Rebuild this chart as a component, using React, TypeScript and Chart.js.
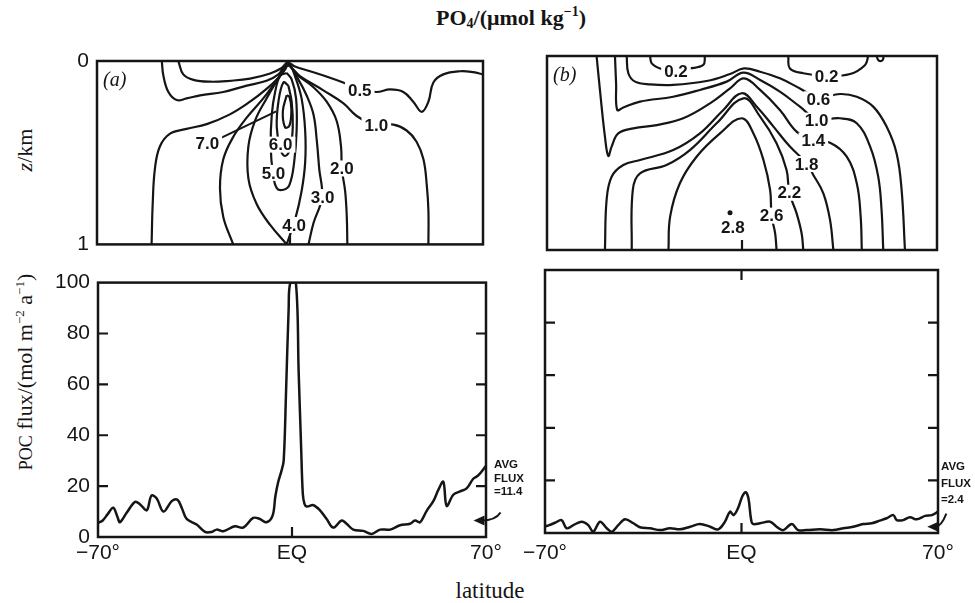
import { useEffect, useRef } from "react";
import { Chart, registerables } from "chart.js";

Chart.register(...registerables);

type Pt = [number, number];

const INK = "#151515";
const SANS = '"Liberation Sans", Arial, sans-serif';
const SERIF = '"Liberation Serif", "Times New Roman", serif';

// ---------- axes ----------
const LAT_MIN = -70;
const LAT_MAX = 70;
const LAT_TICKS = [-70, 0, 70];
const LAT_TICK_LABELS = ["\u221270\u00b0", "EQ", "70\u00b0"];
const DEPTH_MIN = 0;
const DEPTH_MAX = 1;
const DEPTH_TICKS = [0, 1];
const FLUX_MIN = 0;
const FLUX_MAX = 100;
const FLUX_TICKS = [0, 20, 40, 60, 80, 100];
const FLUX_INNER_TICKS = [20, 40, 60, 80];
const EQ_TICK = [0];

// ---------- POC flux, panel (a) ----------
const fluxLatA = [
  -70, -68.3, -66.5, -64.5, -63, -62.1, -59.6, -56.6, -54.8, -52.4, -50.7, -48.8, -46.4, -43.4, -41.4,
  -39.8, -38, -34.4, -31.4, -29, -27.2, -24.8, -20.6, -17.6, -14, -11.6, -9.2, -7, -6, -5, -3.8, -3,
  -2.2, -1.2, -0.6, 1.4, 2.4, 3.3, 3.9, 4.5, 5.3, 7.7, 10.1, 12.5, 14.9, 17.9, 19.7, 22.1, 25.7, 28.7,
  31.8, 35.4, 39, 42.6, 44.4, 46.2, 48.6, 51, 52.8, 54.6, 55.8, 58.2, 60.6, 63, 65.4, 67.2, 70,
];
const fluxValA = [
  5.5, 6.5, 9, 11.5, 8, 5.8, 9.6, 13.8, 12.8, 10.5, 16.3, 15.1, 10, 14.1, 14.7,
  11.5, 7.1, 4.9, 2, 2, 2.9, 2.3, 4.2, 3.7, 7.5, 7.1, 5.8, 8.4, 16, 21.5, 26, 30,
  55, 90, 100, 100, 65, 35, 17, 13, 12, 12.5, 10.5, 7.1, 3.7, 6.5, 5.2, 2.9, 2.4, 1.2,
  2.9, 2.9, 4.6, 5.2, 6.5, 5.8, 10.3, 14.1, 18.5, 21.7, 12.2, 16.6, 17.9, 19.1, 22.9, 24.2, 28,
];
const AVG_FLUX_A = "11.4";

// ---------- POC flux, panel (b) ----------
const fluxLatB = [
  -70, -68.5, -66.4, -64.1, -62.3, -59.9, -56.9, -54.6, -52.8, -50.4, -48, -46.2, -43.9, -41.5, -38.5,
  -36.2, -32.6, -29, -25.5, -21.9, -18.3, -14.8, -11.2, -8.3, -5.9, -4.1, -2.8, -1.2, 0.3, 1.5, 2.5,
  3.3, 4, 6.6, 10.2, 12.5, 14.9, 17.9, 20.2, 23.2, 28, 32.7, 36.3, 39.8, 43.4, 46.4, 49.3, 51.7, 54.1,
  55.3, 57.6, 60, 62.4, 65.4, 67.8, 70,
];
const fluxValB = [
  2.5, 3, 3.9, 4.9, 1.8, 3, 4.3, 3, 0.5, 4.3, 1.8, 0.5, 3, 5.2, 3.7,
  2.2, 1.8, 1.1, 1.8, 1.4, 2.4, 3.4, 2.4, 1.4, 4.3, 8.1, 6.8, 9.5, 14, 15.5, 13,
  6, 3.5, 3.7, 4.3, 2.4, 1.1, 3.4, 1.1, 1.1, 1.4, 1.1, 1.8, 2.4, 3.4, 3.7, 4.7, 5.6, 6.8,
  4.9, 4.9, 6, 5.2, 6.5, 6.8, 8.1,
];
const AVG_FLUX_B = "2.4";

// ---------- PO4 contours, panel (a): [latitude, depth km] ----------
const contA_05: Pt[] = [[-40.5, 0], [-38.7, 0.073], [-35, 0.103], [-29, 0.113], [-21.8, 0.108], [-14.5, 0.096], [-7.2, 0.068], [-3, 0.038], [-0.9, 0.009], [1.8, 0.03], [7.3, 0.056], [14.5, 0.091], [19.3, 0.117], [25.3, 0.155], [31.4, 0.169], [36.3, 0.155], [41.1, 0.169], [44.7, 0.222], [47.8, 0.277], [50.2, 0.222], [52, 0.117], [55.6, 0.073], [61.7, 0.056], [66.5, 0.061], [70, 0.073]];
const contA_10: Pt[] = [[-46.5, 0], [-45.9, 0.082], [-44.1, 0.169], [-41.1, 0.213], [-37.5, 0.204], [-32.6, 0.187], [-24.2, 0.169], [-15.7, 0.134], [-8.5, 0.108], [-4.2, 0.073], [-1.2, 0.021], [3.6, 0.082], [12.1, 0.16], [19.3, 0.23], [24.2, 0.3], [31.3, 0.352], [37.5, 0.347], [42.3, 0.379], [45.9, 0.44], [48.4, 0.536], [49.6, 0.675], [50.2, 0.815], [50.2, 1]];
const contA_20: Pt[] = [[-50.2, 1], [-49.8, 0.78], [-49, 0.588], [-47.2, 0.466], [-43.5, 0.396], [-37.5, 0.37], [-30.2, 0.344], [-21.8, 0.291], [-14.5, 0.222], [-8.5, 0.152], [-4.2, 0.091], [-1.8, 0.047], [-0.6, 0.021], [2.4, 0.073], [8.5, 0.143], [13.3, 0.222], [16.9, 0.326], [18.5, 0.466], [18.8, 0.588], [20, 0.71], [20.6, 0.85], [20.8, 1]];
const contA_30: Pt[] = [[-20.6, 1], [-24.2, 0.85], [-25.4, 0.693], [-24.2, 0.536], [-20.6, 0.414], [-15.7, 0.309], [-9.7, 0.204], [-5.4, 0.117], [-2.4, 0.056], [-0.6, 0.021], [3, 0.1], [6, 0.187], [8.5, 0.291], [9.7, 0.431], [10.6, 0.588], [11.6, 0.742], [8.5, 0.885], [6.7, 1]];
const contA_40: Pt[] = [[-1.2, 1], [-7.2, 0.894], [-12.1, 0.78], [-15.1, 0.64], [-15.1, 0.466], [-12.7, 0.326], [-8.5, 0.204], [-4.8, 0.108], [-1.8, 0.038], [-0.2, 0.016], [1.8, 0.082], [4.2, 0.204], [5.5, 0.379], [5.5, 0.553], [4.2, 0.71], [1.8, 0.867], [-1.2, 1]];
const contA_50: Pt[] = [[-1.2, 0.065], [-3.6, 0.082], [-5.4, 0.169], [-6.6, 0.291], [-7, 0.466], [-6.2, 0.61], [-4.8, 0.693], [-2.4, 0.702], [-0.2, 0.675], [1.5, 0.553], [2.4, 0.379], [2.2, 0.204], [0.6, 0.1], [-1.2, 0.065]];
const contA_60: Pt[] = [[-0.6, 0.134], [-2.4, 0.117], [-4.2, 0.222], [-4.8, 0.361], [-3.5, 0.48], [-1.8, 0.518], [0, 0.483], [1, 0.361], [0.6, 0.222], [-0.6, 0.134]];
const contA_70: Pt[] = [[-1.2, 0.187], [-2.6, 0.274], [-1.8, 0.361], [-0.2, 0.353], [0.5, 0.265], [-0.2, 0.196], [-1.2, 0.187]];
const labelsA = [
  { text: "0.5", x: 25.3, y: 0.158 },
  { text: "1.0", x: 31.3, y: 0.352 },
  { text: "2.0", x: 18.8, y: 0.586 },
  { text: "3.0", x: 11.8, y: 0.742 },
  { text: "4.0", x: 1.5, y: 0.894 },
  { text: "5.0", x: -6.0, y: 0.61 },
  { text: "6.0", x: -3.4, y: 0.456 },
  { text: "7.0", x: -30.0, y: 0.448 },
];
const leaderA: [Pt, Pt] = [[-25.2, 0.42], [-5.0, 0.275]];

// ---------- PO4 contours, panel (b) ----------
const contB_02a: Pt[] = [[-33, 0], [-32.4, 0.038], [-29.4, 0.064], [-24.7, 0.076], [-18.7, 0.064], [-13.9, 0.046], [-13.3, 0]];
const contB_02b: Pt[] = [[16.6, 0], [17.2, 0.064], [22, 0.089], [30.4, 0.103], [38.8, 0.093], [44.2, 0.046], [45.3, 0]];
const contB_02c: Pt[] = [[48.3, 0], [48.9, 0.02], [50, 0.026], [50.7, 0.015], [50.7, 0]];
const contB_06: Pt[] = [[-41.4, 0], [-40.8, 0.089], [-38.4, 0.132], [-33, 0.146], [-24.7, 0.149], [-12.7, 0.129], [-4.3, 0.093], [0.7, 0.064], [6.5, 0.081], [13.6, 0.115], [20.8, 0.167], [27.4, 0.215], [35.2, 0.196], [41.2, 0.21], [47.1, 0.261], [51.9, 0.364], [55.5, 0.502], [57.3, 0.691], [58.5, 1]];
const contB_10: Pt[] = [[-45.6, 0], [-45.2, 0.141], [-44.8, 0.278], [-42.6, 0.265], [-36.6, 0.235], [-24.7, 0.21], [-15.1, 0.175], [-5.5, 0.132], [0.5, 0.086], [6.5, 0.124], [13.6, 0.184], [20.8, 0.261], [26.8, 0.325], [35.2, 0.321], [41.2, 0.347], [46, 0.467], [48.9, 0.622], [50.1, 0.794], [50.7, 1]];
const contB_14: Pt[] = [[-52.2, 0], [-51, 0.175], [-49.2, 0.416], [-48, 0.515], [-46.8, 0.467], [-44.4, 0.399], [-39, 0.373], [-30.6, 0.356], [-21.1, 0.321], [-11.5, 0.244], [-4.3, 0.167], [0.7, 0.115], [6.5, 0.175], [13.6, 0.278], [19.6, 0.39], [25.4, 0.436], [31.6, 0.447], [37.6, 0.519], [41.2, 0.656], [42.6, 0.828], [43, 1]];
const contB_18: Pt[] = [[-49.2, 1], [-48.6, 0.742], [-46.8, 0.622], [-42.6, 0.562], [-36.6, 0.536], [-24.7, 0.485], [-15.1, 0.399], [-6.7, 0.278], [-0.1, 0.192], [5.3, 0.261], [11.3, 0.364], [17.2, 0.467], [23, 0.55], [25.6, 0.613], [29.2, 0.708], [31.6, 0.845], [32.8, 1]];
const contB_22: Pt[] = [[-39.6, 1], [-39.2, 0.69], [-36.6, 0.605], [-27.1, 0.562], [-18.7, 0.485], [-9.1, 0.347], [0.5, 0.218], [6.5, 0.313], [12.4, 0.45], [16, 0.588], [17, 0.705], [19.6, 0.811], [21.4, 0.914], [22, 1]];
const contB_26: Pt[] = [[-26.4, 1], [-25.8, 0.828], [-22.3, 0.656], [-16.3, 0.519], [-7.9, 0.399], [-0.1, 0.321], [4.1, 0.399], [7.7, 0.536], [10.1, 0.691], [10.6, 0.823], [11.9, 0.914], [12.4, 1]];
const maxPointB: Pt = [-4.3, 0.808];
const labelsB = [
  { text: "0.2", x: -23.7, y: 0.081 },
  { text: "0.2", x: 30.4, y: 0.103 },
  { text: "0.6", x: 27.4, y: 0.223 },
  { text: "1.0", x: 26.8, y: 0.333 },
  { text: "1.4", x: 25.6, y: 0.436 },
  { text: "1.8", x: 23.2, y: 0.557 },
  { text: "2.2", x: 17.0, y: 0.705 },
  { text: "2.6", x: 10.6, y: 0.823 },
  { text: "2.8", x: -3.3, y: 0.885 },
];

// ---------- helpers ----------
const toXY = (pts: Pt[]) => pts.map(([x, y]) => ({ x, y }));
const zipXY = (xs: number[], ys: number[]) => xs.map((x, i) => ({ x, y: ys[i] }));

function lineDs(data: { x: number; y: number }[], width = 2.2, tension = 0.4) {
  return {
    data,
    showLine: true,
    borderColor: INK,
    borderWidth: width,
    pointRadius: 0,
    pointHoverRadius: 0,
    tension,
    fill: false,
  };
}

interface Decor {
  panel?: string;
  bottomTicks?: number[];
  topTicks?: number[];
  sideTicks?: number[];
  labels?: { text: string; x: number; y: number }[];
  leader?: [Pt, Pt];
  avg?: { lines: string[]; firstAbove: number; gap: number; dx: number; tip: Pt; tail: [number, number] };
}

function decorPlugin(d: Decor) {
  return {
    id: "decor",
    afterDatasetsDraw(chart: any) {
      const { ctx, chartArea: a } = chart;
      const xs = chart.scales.x;
      const ys = chart.scales.y;
      ctx.save();
      ctx.strokeStyle = INK;
      ctx.fillStyle = INK;
      if (d.leader) {
        ctx.lineWidth = 2;
        ctx.beginPath();
        ctx.moveTo(xs.getPixelForValue(d.leader[0][0]), ys.getPixelForValue(d.leader[0][1]));
        ctx.lineTo(xs.getPixelForValue(d.leader[1][0]), ys.getPixelForValue(d.leader[1][1]));
        ctx.stroke();
      }
      if (d.labels) {
        ctx.font = `bold 17px ${SANS}`;
        ctx.textAlign = "center";
        ctx.textBaseline = "middle";
        for (const l of d.labels) {
          const px = xs.getPixelForValue(l.x);
          const py = ys.getPixelForValue(l.y);
          const w = ctx.measureText(l.text).width;
          ctx.fillStyle = "#fff";
          ctx.fillRect(px - w / 2 - 3, py - 8, w + 6, 16);
          ctx.fillStyle = INK;
          ctx.fillText(l.text, px, py + 1);
        }
      }
      // frame
      ctx.lineWidth = 2.5;
      ctx.strokeRect(a.left, a.top, a.right - a.left, a.bottom - a.top);
      // inward ticks
      const TL = 10;
      ctx.lineWidth = 2.2;
      ctx.beginPath();
      for (const v of d.bottomTicks || []) {
        const x = xs.getPixelForValue(v);
        ctx.moveTo(x, a.bottom);
        ctx.lineTo(x, a.bottom - TL);
      }
      for (const v of d.topTicks || []) {
        const x = xs.getPixelForValue(v);
        ctx.moveTo(x, a.top);
        ctx.lineTo(x, a.top + TL);
      }
      for (const v of d.sideTicks || []) {
        const y = ys.getPixelForValue(v);
        ctx.moveTo(a.left, y);
        ctx.lineTo(a.left + TL, y);
        ctx.moveTo(a.right, y);
        ctx.lineTo(a.right - TL, y);
      }
      ctx.stroke();
      if (d.panel) {
        ctx.font = `italic 20px ${SERIF}`;
        ctx.textAlign = "left";
        ctx.textBaseline = "middle";
        ctx.fillText(d.panel, a.left + 6, a.top + 20);
      }
      if (d.avg) {
        const g = d.avg;
        ctx.font = `bold 11.5px ${SANS}`;
        ctx.textAlign = "left";
        ctx.textBaseline = "middle";
        g.lines.forEach((t, i) => ctx.fillText(t, a.right + g.dx, a.bottom - g.firstAbove + i * g.gap));
        const tx = xs.getPixelForValue(g.tip[0]);
        const ty = ys.getPixelForValue(g.tip[1]);
        const sx = tx + g.tail[0];
        const sy = ty + g.tail[1];
        ctx.lineWidth = 2;
        ctx.beginPath();
        ctx.moveTo(sx, sy);
        ctx.quadraticCurveTo(sx - 5, ty, tx + 8, ty);
        ctx.stroke();
        ctx.beginPath();
        ctx.moveTo(tx, ty);
        ctx.lineTo(tx + 11, ty - 5);
        ctx.lineTo(tx + 11, ty + 5);
        ctx.closePath();
        ctx.fill();
      }
      ctx.restore();
    },
  };
}

interface PanelCfg {
  depth: boolean;
  datasets: any[];
  showX: boolean;
  showY: boolean;
  yWidth: number;
  xHeight: number;
  xPad: number;
  padding: { left: number; top: number; right: number; bottom: number };
  decor: Decor;
}

function makeConfig(p: PanelCfg): any {
  const yTicks = p.depth ? DEPTH_TICKS : FLUX_TICKS;
  const tickFont = { family: SANS, size: 21 };
  return {
    type: "scatter",
    data: { datasets: p.datasets },
    options: {
      responsive: false,
      animation: false,
      events: [],
      layout: { padding: p.padding },
      plugins: { legend: { display: false }, tooltip: { enabled: false }, title: { display: false } },
      scales: {
        x: {
          type: "linear",
          min: LAT_MIN,
          max: LAT_MAX,
          display: p.showX,
          afterBuildTicks: (s: any) => {
            s.ticks = LAT_TICKS.map((value) => ({ value }));
          },
          afterFit: (s: any) => {
            s.height = p.xHeight;
          },
          ticks: {
            autoSkip: false,
            maxRotation: 0,
            minRotation: 0,
            padding: p.xPad,
            color: INK,
            font: tickFont,
            callback: (_v: any, i: number) => LAT_TICK_LABELS[i],
          },
          grid: { display: false, drawTicks: false },
          border: { display: false },
        },
        y: {
          type: "linear",
          min: p.depth ? DEPTH_MIN : FLUX_MIN,
          max: p.depth ? DEPTH_MAX : FLUX_MAX,
          reverse: p.depth,
          display: p.showY,
          afterBuildTicks: (s: any) => {
            s.ticks = yTicks.map((value) => ({ value }));
          },
          afterFit: (s: any) => {
            s.width = p.yWidth;
          },
          ticks: { padding: 8, color: INK, font: tickFont, callback: (v: any) => String(v) },
          grid: { display: false, drawTicks: false },
          border: { display: false },
        },
      },
    },
    plugins: [decorPlugin(p.decor)],
  };
}

export default function App() {
  const refTA = useRef<HTMLCanvasElement>(null);
  const refTB = useRef<HTMLCanvasElement>(null);
  const refBA = useRef<HTMLCanvasElement>(null);
  const refBB = useRef<HTMLCanvasElement>(null);

  useEffect(() => {
    const charts: Chart[] = [];
    charts.push(
      new Chart(
        refTA.current!,
        makeConfig({
          depth: true,
          datasets: [contA_05, contA_10, contA_20, contA_30, contA_40, contA_50, contA_60, contA_70].map((c) =>
            lineDs(toXY(c))
          ),
          showX: false,
          showY: true,
          yWidth: 97,
          xHeight: 0,
          xPad: 0,
          padding: { left: 0, top: 21, right: 17, bottom: 13 },
          decor: { panel: "(a)", bottomTicks: EQ_TICK, labels: labelsA, leader: leaderA },
        })
      )
    );
    charts.push(
      new Chart(
        refTB.current!,
        makeConfig({
          depth: true,
          datasets: [
            ...[contB_02a, contB_02b, contB_02c, contB_06, contB_10, contB_14, contB_18, contB_22, contB_26].map((c) =>
              lineDs(toXY(c))
            ),
            {
              data: toXY([maxPointB]),
              showLine: false,
              pointRadius: 2.5,
              pointBackgroundColor: INK,
              pointBorderWidth: 0,
            },
          ],
          showX: false,
          showY: false,
          yWidth: 0,
          xHeight: 0,
          xPad: 0,
          padding: { left: 47, top: 16, right: 38, bottom: 15 },
          decor: { panel: "(b)", bottomTicks: EQ_TICK, labels: labelsB },
        })
      )
    );
    charts.push(
      new Chart(
        refBA.current!,
        makeConfig({
          depth: false,
          datasets: [lineDs(zipXY(fluxLatA, fluxValA), 2.5, 0.35)],
          showX: true,
          showY: true,
          yWidth: 98,
          xHeight: 35,
          xPad: 4,
          padding: { left: 0, top: 12, right: 49, bottom: 0 },
          decor: {
            bottomTicks: EQ_TICK,
            sideTicks: FLUX_INNER_TICKS,
            avg: { lines: ["AVG", "FLUX", "=" + AVG_FLUX_A], firstAbove: 72, gap: 13.5, dx: 8, tip: [65.5, 6.5], tail: [27, -8] },
          },
        })
      )
    );
    charts.push(
      new Chart(
        refBB.current!,
        makeConfig({
          depth: false,
          datasets: [lineDs(zipXY(fluxLatB, fluxValB), 2.5, 0.35)],
          showX: true,
          showY: false,
          yWidth: 0,
          xHeight: 39,
          xPad: 8,
          padding: { left: 45, top: 12, right: 37, bottom: 0 },
          decor: {
            bottomTicks: EQ_TICK,
            topTicks: EQ_TICK,
            sideTicks: FLUX_INNER_TICKS,
            avg: { lines: ["AVG", "FLUX", "=" + AVG_FLUX_B], firstAbove: 66, gap: 16.5, dx: 3, tip: [66.2, 2.4], tail: [19, -13] },
          },
        })
      )
    );
    return () => charts.forEach((c) => c.destroy());
  }, []);

  const abs = (l: number, t: number, w: number, h: number): React.CSSProperties => ({
    position: "absolute",
    left: l,
    top: t,
    width: w,
    height: h,
  });

  return (
    <div style={{ position: "absolute", left: 0, top: 0, width: 975, height: 603, background: "#fff", overflow: "hidden", color: INK }}>
      <div
        style={{
          position: "absolute",
          left: 361,
          top: -2,
          width: 300,
          textAlign: "center",
          font: `bold 22px ${SERIF}`,
          lineHeight: "28px",
          whiteSpace: "nowrap",
        }}
      >
        PO<sub style={{ fontSize: 14, verticalAlign: "-3px" }}>4</sub>/(μmol kg<sup style={{ fontSize: 14, verticalAlign: "9px" }}>−1</sup>)
      </div>
      <div
        style={{
          position: "absolute",
          left: 25,
          top: 150,
          transform: "translate(-50%, -50%) rotate(-90deg)",
          font: `22px ${SERIF}`,
          whiteSpace: "nowrap",
        }}
      >
        <i>z</i>/km
      </div>
      <div
        style={{
          position: "absolute",
          left: 25,
          top: 372,
          transform: "translate(-50%, -50%) rotate(-90deg)",
          font: `22px ${SERIF}`,
          whiteSpace: "nowrap",
        }}
      >
        <span style={{ fontSize: 18 }}>POC</span> flux/(mol m<sup style={{ fontSize: 13 }}>−2</sup> a<sup style={{ fontSize: 13 }}>−1</sup>)
      </div>
      <div
        style={{
          position: "absolute",
          left: 390,
          top: 578,
          width: 200,
          textAlign: "center",
          font: `23px ${SERIF}`,
          lineHeight: "26px",
        }}
      >
        latitude
      </div>
      <canvas ref={refTA} width={500} height={225} style={abs(0, 40, 500, 225)} />
      <canvas ref={refTB} width={475} height={225} style={abs(500, 40, 475, 225)} />
      <canvas ref={refBA} width={535} height={310} style={abs(0, 262, 535, 310)} />
      <canvas ref={refBB} width={475} height={314} style={abs(500, 258, 475, 314)} />
    </div>
  );
}
